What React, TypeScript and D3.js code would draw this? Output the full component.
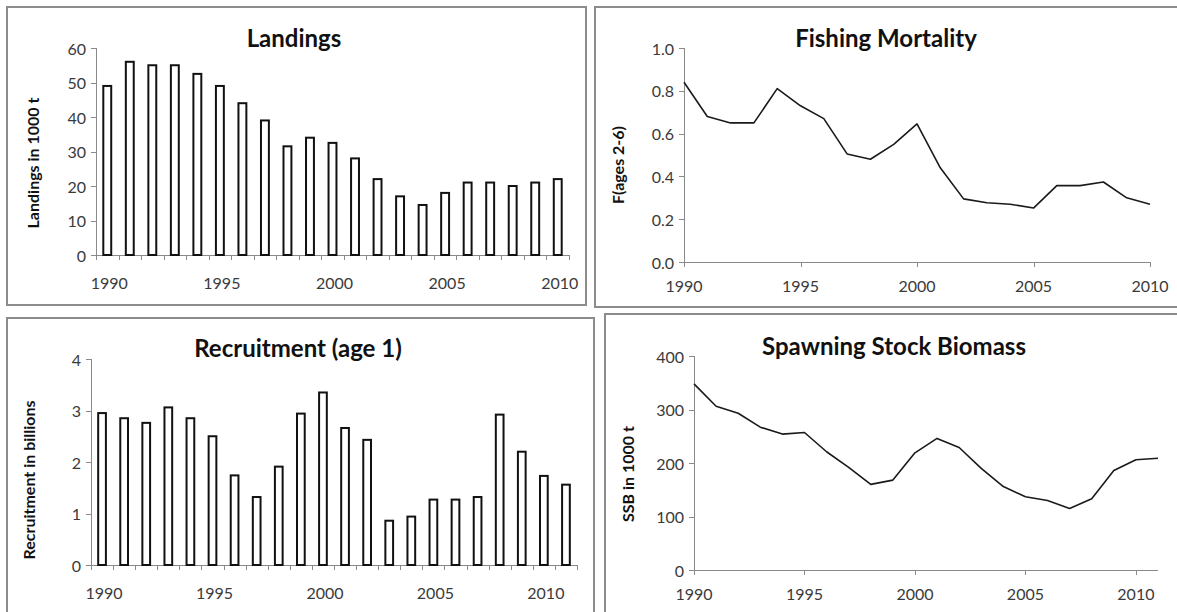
import * as d3 from "d3";
import { useEffect, useRef } from "react";

// landings and recruitment are bar charts, F and SSB are lines
const landingYears = [1990, 1991, 1992, 1993, 1994, 1995, 1996, 1997, 1998, 1999, 2000, 2001, 2002, 2003, 2004, 2005, 2006, 2007, 2008, 2009, 2010];
const landings = [49, 56, 55, 55, 52.5, 49, 44, 39, 31.5, 34, 32.5, 28, 22, 17, 14.5, 18, 21, 21, 20, 21, 22];

const fishingYears = [1990, 1991, 1992, 1993, 1994, 1995, 1996, 1997, 1998, 1999, 2000, 2001, 2002, 2003, 2004, 2005, 2006, 2007, 2008, 2009, 2010];
const fishingMortality = [0.84, 0.68, 0.65, 0.65, 0.81, 0.73, 0.67, 0.505, 0.48, 0.55, 0.645, 0.44, 0.295, 0.277, 0.27, 0.252, 0.357, 0.357, 0.374, 0.3, 0.27];

const recruitYears = [1990, 1991, 1992, 1993, 1994, 1995, 1996, 1997, 1998, 1999, 2000, 2001, 2002, 2003, 2004, 2005, 2006, 2007, 2008, 2009, 2010, 2011];
const recruitment = [2.95, 2.85, 2.76, 3.06, 2.85, 2.5, 1.74, 1.32, 1.91, 2.94, 3.35, 2.66, 2.43, 0.86, 0.94, 1.27, 1.27, 1.32, 2.92, 2.2, 1.73, 1.56];

const ssbYears = [1990, 1991, 1992, 1993, 1994, 1995, 1996, 1997, 1998, 1999, 2000, 2001, 2002, 2003, 2004, 2005, 2006, 2007, 2008, 2009, 2010, 2011];
const ssb = [348, 306, 293, 267, 254, 257, 221, 192, 160, 168, 219, 246, 229, 190, 156, 137, 130, 115, 133, 186, 206, 209];

const yearLabels = [1990, 1995, 2000, 2005, 2010];
const landingTicks = [0, 10, 20, 30, 40, 50, 60];
const fishingTicks = [0, 0.2, 0.4, 0.6, 0.8, 1.0];
const recruitTicks = [0, 1, 2, 3, 4];
const ssbTicks = [0, 100, 200, 300, 400];

const FONT = "Lato, 'Open Sans', sans-serif";
const AXIS = "#8a8a8a";
const LABEL = "#3a3a3a";

type Box = { x: number; y: number; w: number; h: number };
type Panel = {
  frame: Box;
  plot: { x0: number; x1: number; y0: number; y1: number };
  title: string;
  titleX: number;
  titleY: number;
  yTitle: string;
  yTitleX: number;
  yTitleY: number;
  yTicks: number[];
  yFormat: (v: number) => string;
  xLabelDy: number;
};

function drawFrame(g: d3.Selection<SVGGElement, unknown, null, undefined>, p: Panel) {
  g.append("rect")
    .attr("x", p.frame.x)
    .attr("y", p.frame.y)
    .attr("width", p.frame.w)
    .attr("height", p.frame.h)
    .attr("fill", "#fff")
    .attr("stroke", "#8c8c8c")
    .attr("stroke-width", 2);

  g.append("text")
    .attr("x", p.titleX)
    .attr("y", p.titleY)
    .attr("text-anchor", "middle")
    .attr("font-family", FONT)
    .attr("font-weight", 700)
    .attr("font-size", 24)
    .attr("fill", "#111")
    .text(p.title);

  g.append("text")
    .attr("transform", `translate(${p.yTitleX},${p.yTitleY}) rotate(-90)`)
    .attr("text-anchor", "middle")
    .attr("dominant-baseline", "central")
    .attr("font-family", FONT)
    .attr("font-weight", 700)
    .attr("font-size", 16)
    .attr("fill", "#111")
    .text(p.yTitle);
}

function drawYAxis(g: d3.Selection<SVGGElement, unknown, null, undefined>, p: Panel, y: d3.ScaleLinear<number, number>) {
  const { x0, x1 } = p.plot;
  g.append("line")
    .attr("x1", x0 + 0.5)
    .attr("x2", x0 + 0.5)
    .attr("y1", y(p.yTicks[p.yTicks.length - 1]))
    .attr("y2", y(0))
    .attr("stroke", AXIS);
  p.yTicks.forEach((t) => {
    g.append("line")
      .attr("x1", x0 - 5)
      .attr("x2", x0)
      .attr("y1", Math.round(y(t)) + 0.5)
      .attr("y2", Math.round(y(t)) + 0.5)
      .attr("stroke", AXIS);
    g.append("text")
      .attr("x", x0 - 10)
      .attr("y", y(t))
      .attr("text-anchor", "end")
      .attr("dominant-baseline", "central")
      .attr("font-family", FONT)
      .attr("font-size", 16)
      .attr("fill", LABEL)
      .text(p.yFormat(t));
  });
  g.append("line")
    .attr("x1", x0)
    .attr("x2", x1)
    .attr("y1", Math.round(y(0)) + 0.5)
    .attr("y2", Math.round(y(0)) + 0.5)
    .attr("stroke", AXIS);
}

function barPanel(
  svg: d3.Selection<SVGSVGElement, unknown, null, undefined>,
  p: Panel,
  years: number[],
  values: number[]
) {
  const g = svg.append("g");
  drawFrame(g, p);
  const x = d3.scaleBand<number>().domain(years).range([p.plot.x0, p.plot.x1]).paddingInner(0.56).paddingOuter(0.28);
  const y = d3.scaleLinear().domain([0, p.yTicks[p.yTicks.length - 1]]).range([p.plot.y1, p.plot.y0]);
  drawYAxis(g, p, y);

  const step = x.step();
  d3.range(years.length + 1).forEach((i) => {
    const xx = Math.round(p.plot.x0 + i * step) + 0.5;
    g.append("line")
      .attr("x1", xx)
      .attr("x2", xx)
      .attr("y1", y(0))
      .attr("y2", y(0) + 5)
      .attr("stroke", AXIS);
  });

  g.selectAll("rect.bar")
    .data(values)
    .join("rect")
    .attr("class", "bar")
    .attr("x", (_, i) => (x(years[i]) ?? 0) + 1)
    .attr("width", x.bandwidth() - 2)
    .attr("y", (d) => y(d))
    .attr("height", (d) => y(0) - y(d))
    .attr("fill", "#fff")
    .attr("stroke", "#111")
    .attr("stroke-width", 2);

  yearLabels.forEach((yr) => {
    g.append("text")
      .attr("x", (x(yr) ?? 0) + x.bandwidth() / 2 + 2)
      .attr("y", y(0) + p.xLabelDy)
      .attr("text-anchor", "middle")
      .attr("font-family", FONT)
      .attr("font-size", 16)
      .attr("fill", LABEL)
      .text(yr);
  });
}

function linePanel(
  svg: d3.Selection<SVGSVGElement, unknown, null, undefined>,
  p: Panel,
  years: number[],
  values: number[]
) {
  const g = svg.append("g");
  drawFrame(g, p);
  const x = d3.scaleLinear().domain([years[0], years[years.length - 1]]).range([p.plot.x0, p.plot.x1]);
  const y = d3.scaleLinear().domain([0, p.yTicks[p.yTicks.length - 1]]).range([p.plot.y1, p.plot.y0]);
  drawYAxis(g, p, y);

  yearLabels.forEach((yr) => {
    const xx = Math.round(x(yr)) + 0.5;
    g.append("line")
      .attr("x1", xx)
      .attr("x2", xx)
      .attr("y1", y(0))
      .attr("y2", y(0) + 5)
      .attr("stroke", AXIS);
    g.append("text")
      .attr("x", x(yr))
      .attr("y", y(0) + p.xLabelDy)
      .attr("text-anchor", "middle")
      .attr("font-family", FONT)
      .attr("font-size", 16)
      .attr("fill", LABEL)
      .text(yr);
  });

  const line = d3
    .line<number>()
    .x((_, i) => x(years[i]))
    .y((d) => y(d));

  g.append("path")
    .datum(values)
    .attr("d", line)
    .attr("fill", "none")
    .attr("stroke", "#1a1a1a")
    .attr("stroke-width", 1.6)
    .attr("stroke-linejoin", "round");
}

export default function App() {
  const svgRef = useRef<SVGSVGElement>(null);

  useEffect(() => {
    const svg = d3.select(svgRef.current!);
    svg.selectAll("*").remove();

    barPanel(
      svg,
      {
        frame: { x: 7, y: 7, w: 579, h: 298 },
        plot: { x0: 96, x1: 569, y0: 48, y1: 255 },
        title: "Landings",
        titleX: 294,
        titleY: 47,
        yTitle: "Landings in 1000 t",
        yTitleX: 32,
        yTitleY: 163,
        yTicks: landingTicks,
        yFormat: (v) => String(v),
        xLabelDy: 34,
      },
      landingYears,
      landings
    );

    linePanel(
      svg,
      {
        frame: { x: 595, y: 7, w: 600, h: 300 },
        plot: { x0: 684, x1: 1150, y0: 48, y1: 262 },
        title: "Fishing Mortality",
        titleX: 886,
        titleY: 47,
        yTitle: "F(ages 2-6)",
        yTitleX: 617,
        yTitleY: 165,
        yTicks: fishingTicks,
        yFormat: d3.format(".1f"),
        xLabelDy: 30,
      },
      fishingYears,
      fishingMortality
    );

    barPanel(
      svg,
      {
        frame: { x: 7, y: 318, w: 587, h: 310 },
        plot: { x0: 91, x1: 577, y0: 359, y1: 565 },
        title: "Recruitment (age 1)",
        titleX: 298,
        titleY: 357,
        yTitle: "Recruitment in billions",
        yTitleX: 28,
        yTitleY: 480,
        yTicks: recruitTicks,
        yFormat: (v) => String(v),
        xLabelDy: 34,
      },
      recruitYears,
      recruitment
    );

    linePanel(
      svg,
      {
        frame: { x: 605, y: 314, w: 590, h: 310 },
        plot: { x0: 694, x1: 1158, y0: 356, y1: 570 },
        title: "Spawning Stock Biomass",
        titleX: 894,
        titleY: 355,
        yTitle: "SSB in 1000 t",
        yTitleX: 627,
        yTitleY: 474,
        yTicks: ssbTicks,
        yFormat: (v) => String(v),
        xLabelDy: 30,
      },
      ssbYears,
      ssb
    );
  }, []);

  return (
    <div style={{ position: "fixed", left: 0, top: 0, width: 1177, height: 612, background: "#fff" }}>
      <svg ref={svgRef} width={1177} height={612} style={{ display: "block" }} />
    </div>
  );
}
